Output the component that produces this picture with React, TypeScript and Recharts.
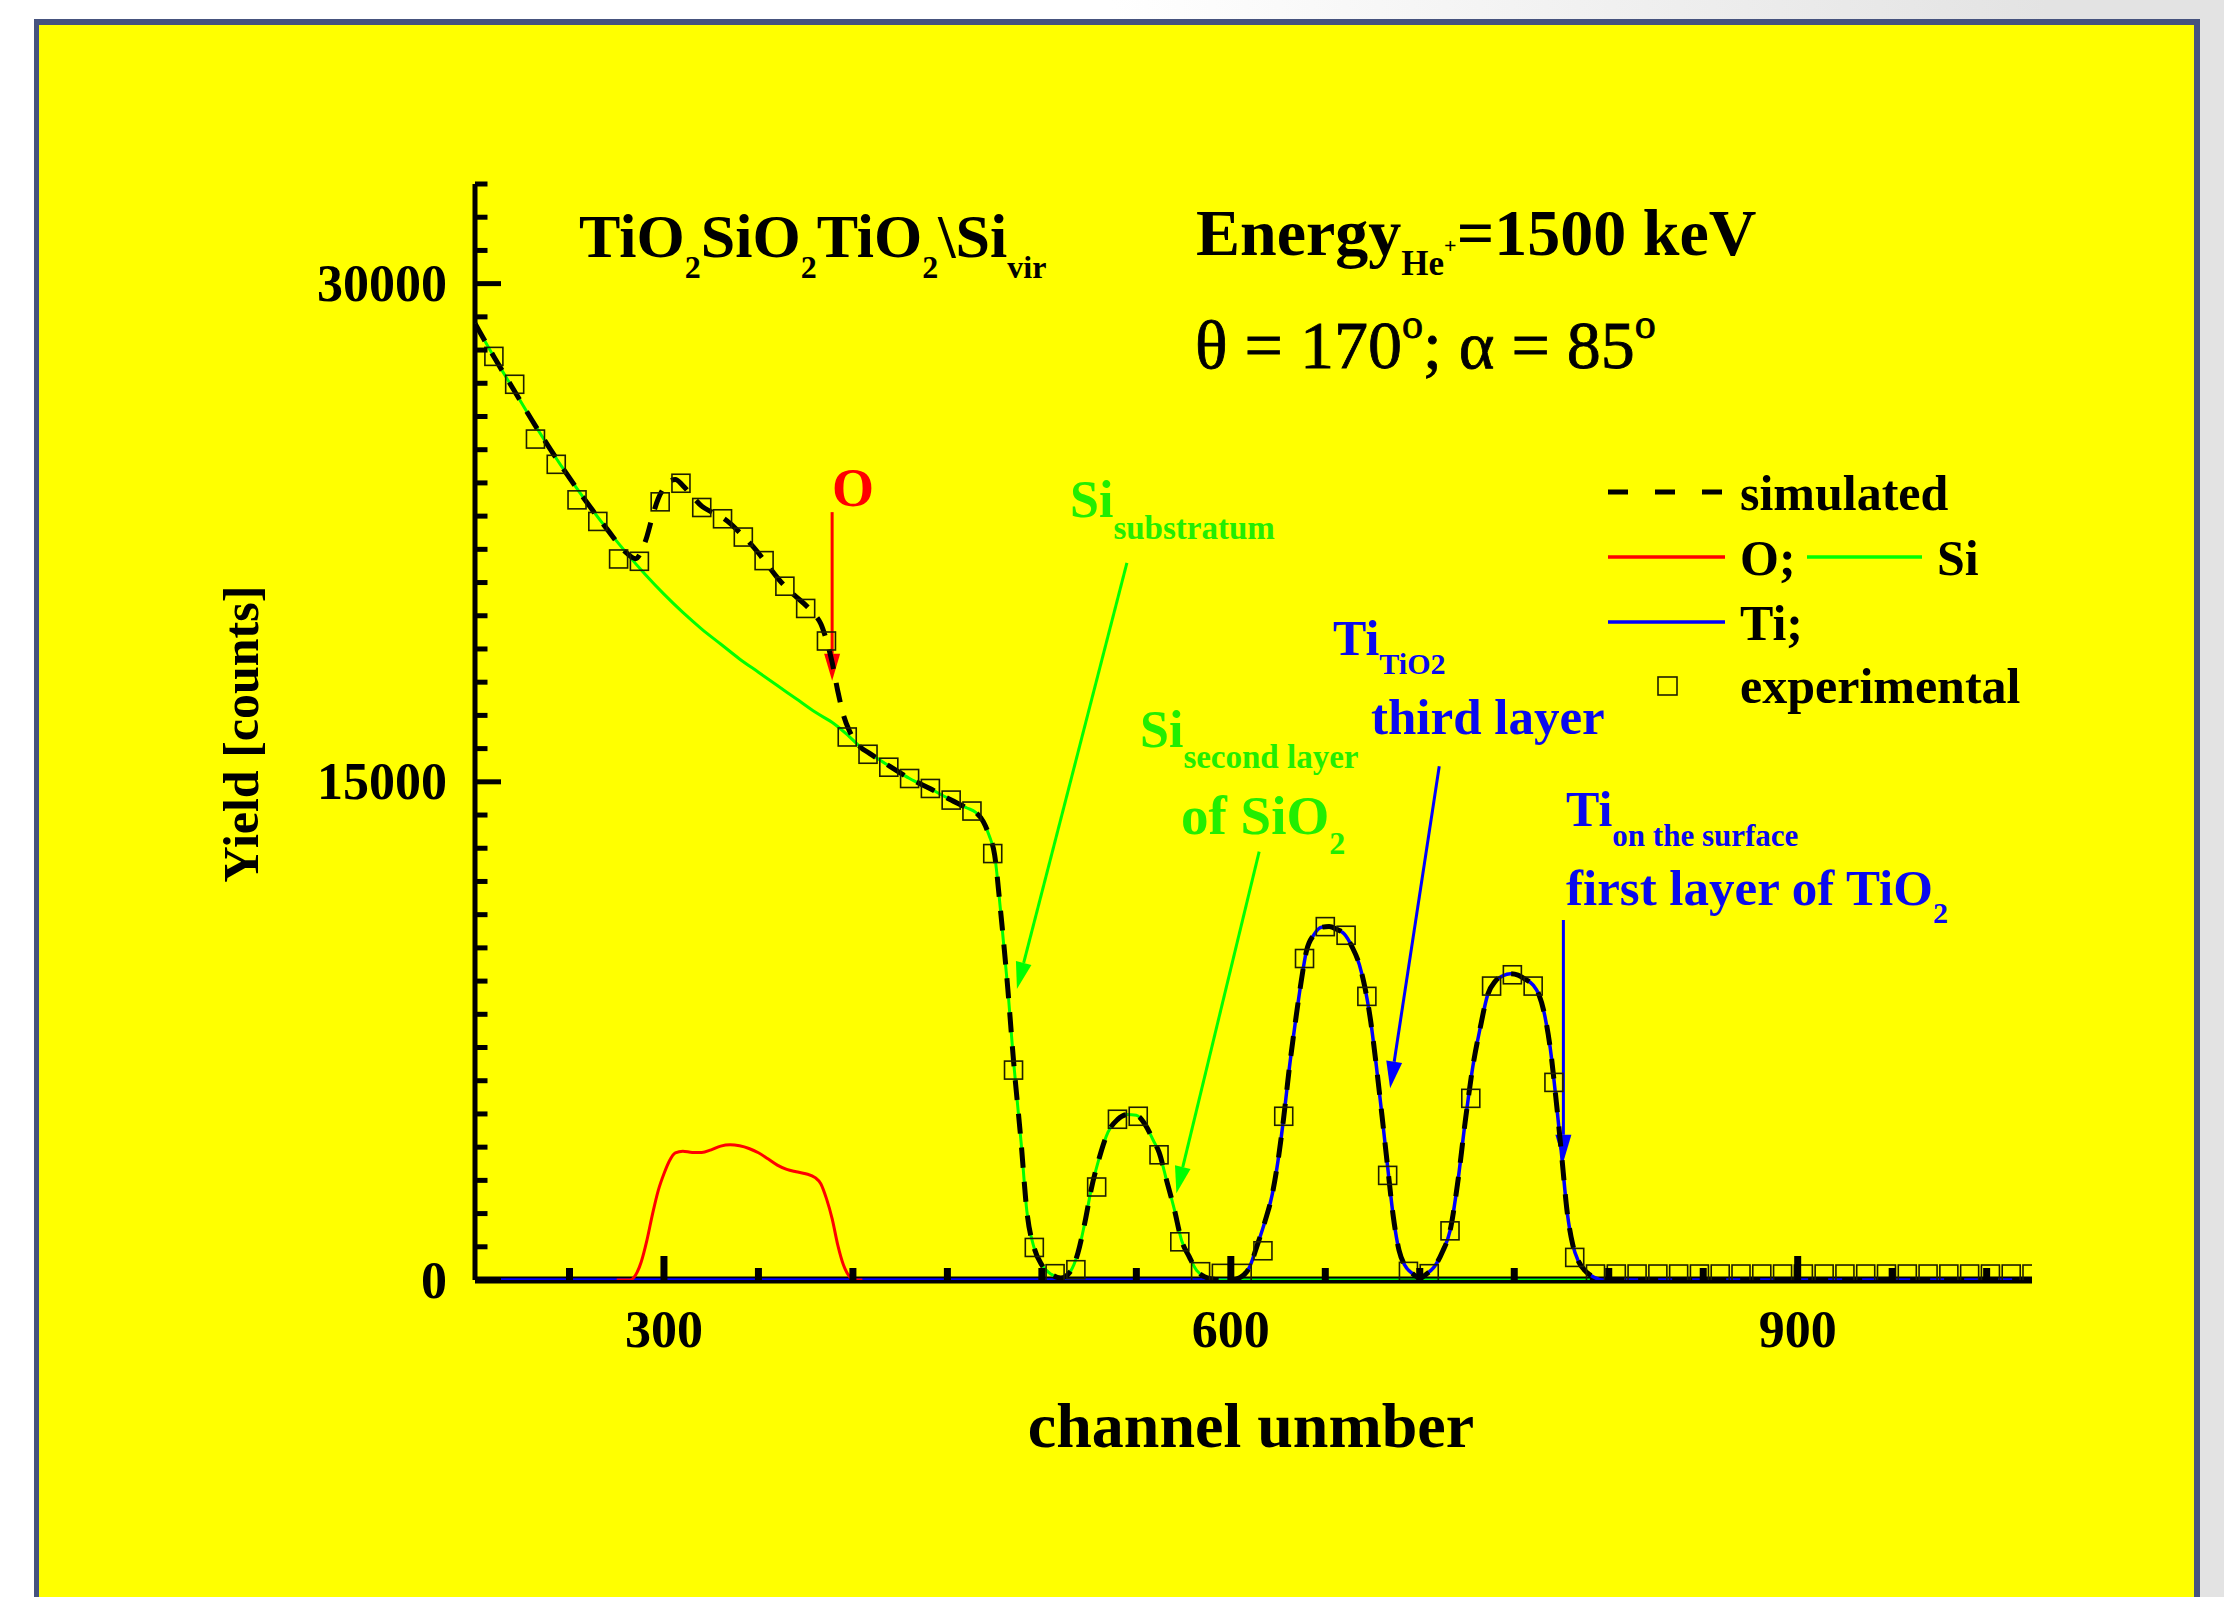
import { ComposedChart, Line, Scatter, XAxis, YAxis, ReferenceLine } from "recharts";

const SERIF = "'Liberation Serif', 'Times New Roman', serif";
const RED = "#ff0000";
const GREEN = "#00ff00";
const GREEN_TEXT = "#22ee00";
const BLUE = "#0000ff";
const BLUE_TEXT = "#0a0aee";

// axis ticks
const xTicks = [250, 300, 350, 400, 450, 500, 550, 600, 650, 700, 750, 800, 850, 900, 950, 1000];
const xMajor = [300, 600, 900];
const yTicks = [
  0, 1000, 2000, 3000, 4000, 5000, 6000, 7000, 8000, 9000, 10000, 11000, 12000, 13000, 14000, 15000, 16000,
  17000, 18000, 19000, 20000, 21000, 22000, 23000, 24000, 25000, 26000, 27000, 28000, 29000, 30000, 31000,
  32000, 33000,
];
const yMajor = [0, 15000, 30000];

// experimental points (open squares)
const expChannels = [
  210, 221, 232, 243, 254, 265, 276, 287, 298, 309, 320, 331, 342, 353, 364, 375, 386, 397, 408, 419, 430, 441,
  452, 463, 474, 485, 496, 507, 518, 529, 540, 551, 562, 573, 584, 595, 606, 617, 628, 639, 650, 661, 672, 683,
  694, 705, 716, 727, 738, 749, 760, 771, 782, 793, 804, 815, 826, 837, 848, 859, 870, 881, 892, 903, 914, 925,
  936, 947, 958, 969, 980, 991, 1002, 1013, 1024,
];
const expCounts = [
  27810, 26970, 25320, 24560, 23490, 22840, 21710, 21640, 23430, 23990, 23260, 22920, 22370, 21660, 20890, 20220,
  19240, 16350, 15830, 15440, 15100, 14800, 14450, 14120, 12840, 6320, 980, 190, 310, 2800, 4840, 4930, 3770,
  1150, 250, 200, 200, 880, 4930, 9680, 10640, 10380, 8540, 3150, 260, 190, 1480, 5470, 8850, 9190, 8850, 5950,
  680, 180, 180, 180, 180, 180, 180, 180, 180, 180, 180, 180, 180, 180, 180, 180, 180, 180, 180, 180, 180, 180,
  180,
];

// simulated total spectrum (dashed)
const simChannels = [
  200, 210, 220, 230, 240, 250, 260, 270, 280, 285, 288, 291, 294, 297, 300, 303, 306, 310, 315, 320, 325, 330,
  335, 340, 345, 350, 355, 360, 365, 370, 375, 380, 383, 386, 389, 392, 395, 398, 403, 409, 420, 430, 441, 452,
  460, 465, 469, 472, 475, 478, 482, 485, 489, 492, 496, 500, 505, 510, 515, 519, 523, 526, 530, 535, 540, 545,
  550, 555, 559, 562, 566, 570, 574, 578, 582, 586, 590, 595, 600, 605, 610, 614, 618, 622, 625, 628, 631, 634,
  637, 640, 644, 648, 652, 656, 660, 664, 668, 671, 674, 677, 680, 683, 686, 689, 692, 696, 700, 704, 708, 712,
  716, 720, 724, 728, 732, 736, 740, 744, 748, 752, 756, 760, 763, 766, 769, 772, 775, 778, 781, 784, 788, 792,
  797, 1024,
];
const simCounts = [
  28800, 27800, 26850, 25900, 25000, 24150, 23350, 22600, 21900, 21720, 21930, 22390, 23010, 23530, 23850, 24050,
  24100, 23920, 23600, 23300, 23130, 22990, 22780, 22510, 22220, 21890, 21520, 21150, 20830, 20570, 20320, 20020,
  19760, 19260, 18600, 17730, 17010, 16550, 16100, 15850, 15450, 15100, 14790, 14450, 14220, 14080, 13800, 13400,
  12800, 11200, 8750, 6600, 4150, 2100, 950, 450, 170, 60, 250, 800, 1800, 2700, 3600, 4450, 4830, 4980, 4960,
  4650, 4200, 3850, 3000, 2150, 1180, 700, 280, 100, 30, 0, 0, 80, 400, 1050, 1750, 2600, 3600, 4900, 6400, 7700,
  8900, 9900, 10400, 10620, 10640, 10560, 10420, 10050, 9500, 8800, 7800, 6450, 4950, 3400, 1900, 900, 450, 200,
  60, 200, 420, 850, 1480, 2900, 4750, 6400, 7600, 8600, 9000, 9160, 9220, 9180, 9050, 8880, 8600, 8000, 7000,
  5500, 3800, 2050, 1050, 560, 250, 90, 0, 0,
];

// Si partial spectrum (green)
const siChannels = [
  200, 210, 220, 230, 240, 250, 260, 270, 280, 290, 300, 310, 320, 330, 340, 350, 360, 370, 380, 390, 397, 403,
  409, 420, 430, 441, 452, 460, 465, 469, 472, 475, 478, 482, 485, 489, 492, 496, 500, 505, 510, 515, 519, 523,
  526, 530, 535, 540, 545, 550, 555, 559, 562, 566, 570, 574, 578, 582, 586, 590, 595, 650, 700, 750, 790,
];
const siCounts = [
  28800, 27800, 26850, 25900, 25000, 24150, 23350, 22600, 21900, 21250, 20650, 20100, 19600, 19150, 18700, 18300,
  17900, 17500, 17100, 16750, 16420, 16100, 15850, 15450, 15100, 14790, 14450, 14220, 14080, 13800, 13400, 12800,
  11200, 8750, 6600, 4150, 2100, 950, 450, 170, 60, 250, 800, 1800, 2700, 3600, 4450, 4830, 4980, 4960, 4650,
  4200, 3850, 3000, 2150, 1180, 700, 280, 100, 30, 0, 0, 0, 0, 0,
];

// O partial spectrum (red)
const oChannels = [
  275, 282, 285, 288, 291, 294, 297, 300, 303, 306, 310, 315, 320, 325, 330, 335, 340, 345, 350, 355, 360, 365,
  370, 375, 380, 383, 386, 389, 392, 395, 398, 401, 405,
];
const oCounts = [
  0, 0, 150, 550, 1200, 2000, 2700, 3200, 3600, 3830, 3880, 3840, 3840, 3920, 4030, 4070, 4040, 3960, 3830, 3650,
  3460, 3330, 3260, 3200, 3080, 2900, 2450, 1850, 1050, 450, 120, 0, 0,
];

// Ti partial spectrum (blue)
const tiChannels = [
  200, 600, 605, 610, 614, 618, 622, 625, 628, 631, 634, 637, 640, 644, 648, 652, 656, 660, 664, 668, 671, 674,
  677, 680, 683, 686, 689, 692, 696, 700, 704, 708, 712, 716, 720, 724, 728, 732, 736, 740, 744, 748, 752, 756,
  760, 763, 766, 769, 772, 775, 778, 781, 784, 788, 792, 797, 1024,
];
const tiCounts = [
  0, 0, 80, 400, 1050, 1750, 2600, 3600, 4900, 6400, 7700, 8900, 9900, 10400, 10620, 10640, 10560, 10420, 10050,
  9500, 8800, 7800, 6450, 4950, 3400, 1900, 900, 450, 200, 60, 200, 420, 850, 1480, 2900, 4750, 6400, 7600, 8600,
  9000, 9160, 9220, 9180, 9050, 8880, 8600, 8000, 7000, 5500, 3800, 2050, 1050, 560, 250, 90, 0, 0,
];

// annotation arrows: [channel, counts] from -> to
const arrows = [
  { from: [389, 23120], to: [389, 18040], color: RED },
  { from: [545, 21590], to: [486.8, 8760], color: GREEN },
  { from: [615, 12900], to: [571.2, 2610], color: GREEN },
  { from: [710.3, 15470], to: [684.3, 5770], color: BLUE },
  { from: [776, 10840], to: [776, 3560], color: BLUE },
];

const toRows = (ch: number[], v: number[]) => ch.map((c, i) => ({ ch: c, v: v[i] }));
const expData = toRows(expChannels, expCounts);
const simData = toRows(simChannels, simCounts);
const siData = toRows(siChannels, siCounts);
const oData = toRows(oChannels, oCounts);
const tiData = toRows(tiChannels, tiCounts);

function XTick({ x, y, payload }: any) {
  const major = xMajor.includes(payload.value);
  return (
    <g>
      <line x1={x} x2={x} y1={y} y2={y - (major ? 24 : 12)} stroke="#000" strokeWidth={7} />
      {major && (
        <text x={x} y={y + 67} textAnchor="middle" fontFamily={SERIF} fontWeight="bold" fontSize={52} fill="#000">
          {payload.value}
        </text>
      )}
    </g>
  );
}

function YTick({ x, y, payload }: any) {
  const major = yMajor.includes(payload.value);
  return (
    <g>
      <line x1={x} x2={x + (major ? 26 : 12.5)} y1={y} y2={y} stroke="#000" strokeWidth={5} />
      {major && (
        <text x={x - 28} y={y} dy="0.34em" textAnchor="end" fontFamily={SERIF} fontWeight="bold" fontSize={52} fill="#000">
          {payload.value}
        </text>
      )}
    </g>
  );
}

const arrowShape = (color: string) => (p: any) => {
  const { x1, y1, x2, y2 } = p;
  const len = Math.hypot(x2 - x1, y2 - y1) || 1;
  const ux = (x2 - x1) / len;
  const uy = (y2 - y1) / len;
  const bx = x2 - ux * 27;
  const by = y2 - uy * 27;
  const pts = `${x2},${y2} ${bx - uy * 8},${by + ux * 8} ${bx + uy * 8},${by - ux * 8}`;
  return (
    <g>
      <line x1={x1} y1={y1} x2={bx} y2={by} stroke={color} strokeWidth={3} />
      <polygon points={pts} fill={color} />
    </g>
  );
};

const Square = (p: any) => (
  <rect x={p.cx - 9} y={p.cy - 9} width={18} height={18} fill="none" stroke="#1e1e00" strokeWidth={1.6} />
);

const bold = { fontFamily: SERIF, fontWeight: "bold" as const };

export default function App() {
  return (
    <div style={{ position: "absolute", left: 0, top: 0, width: 2224, height: 1597, overflow: "hidden",
      background: "linear-gradient(to right, #ffffff 0%, #ffffff 50%, #e3e3e3 92%, #e3e3e3 100%)" }}>
      <div style={{ position: "absolute", left: 34, top: 19, width: 2166, height: 1600, boxSizing: "border-box",
        background: "#ffff00", borderTop: "6px solid #46537f", borderLeft: "5px solid #46537f",
        borderRight: "6px solid #46537f" }} />
      <div style={{ position: "absolute", left: 0, top: 0 }}>
        <ComposedChart width={2224} height={1597} margin={{ top: 184, right: 192, bottom: 0, left: 0 }}>
          <XAxis dataKey="ch" type="number" domain={[200, 1024]} allowDataOverflow ticks={xTicks} interval={0}
            height={317} tickSize={0} tickMargin={0} tick={<XTick />} tickLine={false}
            axisLine={{ stroke: "#000", strokeWidth: 7 }} />
          <YAxis type="number" domain={[0, 33000]} allowDataOverflow ticks={yTicks} interval={0} width={475}
            tickSize={0} tickMargin={0} tick={<YTick />} tickLine={false}
            axisLine={{ stroke: "#000", strokeWidth: 5 }} />
          {arrows.map((a, i) => (
            <ReferenceLine key={i} segment={[{ x: a.from[0], y: a.from[1] }, { x: a.to[0], y: a.to[1] }]}
              stroke={a.color} shape={arrowShape(a.color)} ifOverflow="visible" />
          ))}
          <Line data={tiData} dataKey="v" type="monotone" stroke={BLUE} strokeWidth={3.5} dot={false}
            activeDot={false} isAnimationActive={false} zIndex={600} />
          <Line data={siData} dataKey="v" type="monotone" stroke={GREEN} strokeWidth={3} dot={false}
            activeDot={false} isAnimationActive={false} zIndex={600} />
          <Line data={oData} dataKey="v" type="monotone" stroke={RED} strokeWidth={3} dot={false}
            activeDot={false} isAnimationActive={false} zIndex={600} />
          <Line data={simData} dataKey="v" type="monotone" stroke="#000" strokeWidth={5} strokeDasharray="20 14"
            dot={false} activeDot={false} isAnimationActive={false} zIndex={610} />
          <Scatter data={expData} dataKey="v" shape={Square} isAnimationActive={false} zIndex={620} />
        </ComposedChart>
      </div>
      <svg width={2224} height={1597} style={{ position: "absolute", left: 0, top: 0, pointerEvents: "none" }}>
        {/* title & conditions */}
        <text x={579} y={257} fontSize={62} {...bold} fill="#000">
          TiO<tspan fontSize={32} dy={21}>2</tspan>
          <tspan dy={-21}>SiO</tspan><tspan fontSize={32} dy={21}>2</tspan>
          <tspan dy={-21}>TiO</tspan><tspan fontSize={32} dy={21}>2</tspan>
          <tspan dy={-21}>{"\\Si"}</tspan><tspan fontSize={32} dy={21}>vir</tspan>
        </text>
        <text x={1196} y={255} fontSize={66} {...bold} fill="#000">
          Energy<tspan fontSize={35} dy={20}>He</tspan><tspan fontSize={22} dy={-22}>+</tspan>
          <tspan dy={2}>=1500 keV</tspan>
        </text>
        <text x={1195} y={368} fontSize={68} fontFamily={SERIF} fill="#000" stroke="#000" strokeWidth={0.8}>
          θ = 170<tspan fontSize={42} dy={-30}>o</tspan><tspan dy={30}>; α = 85</tspan>
          <tspan fontSize={42} dy={-30}>o</tspan>
        </text>

        {/* legend */}
        <line x1={1608} x2={1724} y1={492} y2={492} stroke="#000" strokeWidth={5} strokeDasharray="20 27" />
        <text x={1740} y={510} fontSize={50} {...bold}>simulated</text>
        <line x1={1608} x2={1725} y1={557} y2={557} stroke={RED} strokeWidth={3.5} />
        <text x={1740} y={575} fontSize={50} {...bold}>O;</text>
        <line x1={1807} x2={1922} y1={557} y2={557} stroke={GREEN} strokeWidth={3.5} />
        <text x={1937} y={575} fontSize={50} {...bold}>Si</text>
        <line x1={1608} x2={1725} y1={622} y2={622} stroke={BLUE} strokeWidth={3.5} />
        <text x={1740} y={640} fontSize={50} {...bold}>Ti;</text>
        <rect x={1658} y={677} width={19} height={18} fill="none" stroke="#1e1e00" strokeWidth={1.6} />
        <text x={1740} y={703} fontSize={50} {...bold}>experimental</text>

        {/* annotations */}
        <text x={832} y={506} fontSize={54} {...bold} fill={RED}>O</text>
        <text x={1070} y={517} fontSize={52} {...bold} fill={GREEN_TEXT}>
          Si<tspan fontSize={33} dy={22}>substratum</tspan>
        </text>
        <text x={1333} y={655} fontSize={50} {...bold} fill={BLUE_TEXT}>
          Ti<tspan fontSize={30} dy={19}>TiO2</tspan>
        </text>
        <text x={1371} y={734} fontSize={51} {...bold} fill={BLUE_TEXT}>third layer</text>
        <text x={1140} y={747} fontSize={52} {...bold} fill={GREEN_TEXT}>
          Si<tspan fontSize={33} dy={21}>second layer</tspan>
        </text>
        <text x={1181} y={834} fontSize={55} {...bold} fill={GREEN_TEXT}>
          of SiO<tspan fontSize={32} dy={20}>2</tspan>
        </text>
        <text x={1566} y={826} fontSize={50} {...bold} fill={BLUE_TEXT}>
          Ti<tspan fontSize={31} dy={20}>on the surface</tspan>
        </text>
        <text x={1566} y={905} fontSize={51} {...bold} fill={BLUE_TEXT}>
          first layer of TiO<tspan fontSize={30} dy={18}>2</tspan>
        </text>

        {/* axis titles */}
        <text x={1251} y={1447} fontSize={64} {...bold} textAnchor="middle">channel unmber</text>
        <text transform="translate(258,734) rotate(-90)" fontSize={50} {...bold} textAnchor="middle">
          Yield [counts]
        </text>
      </svg>
    </div>
  );
}
